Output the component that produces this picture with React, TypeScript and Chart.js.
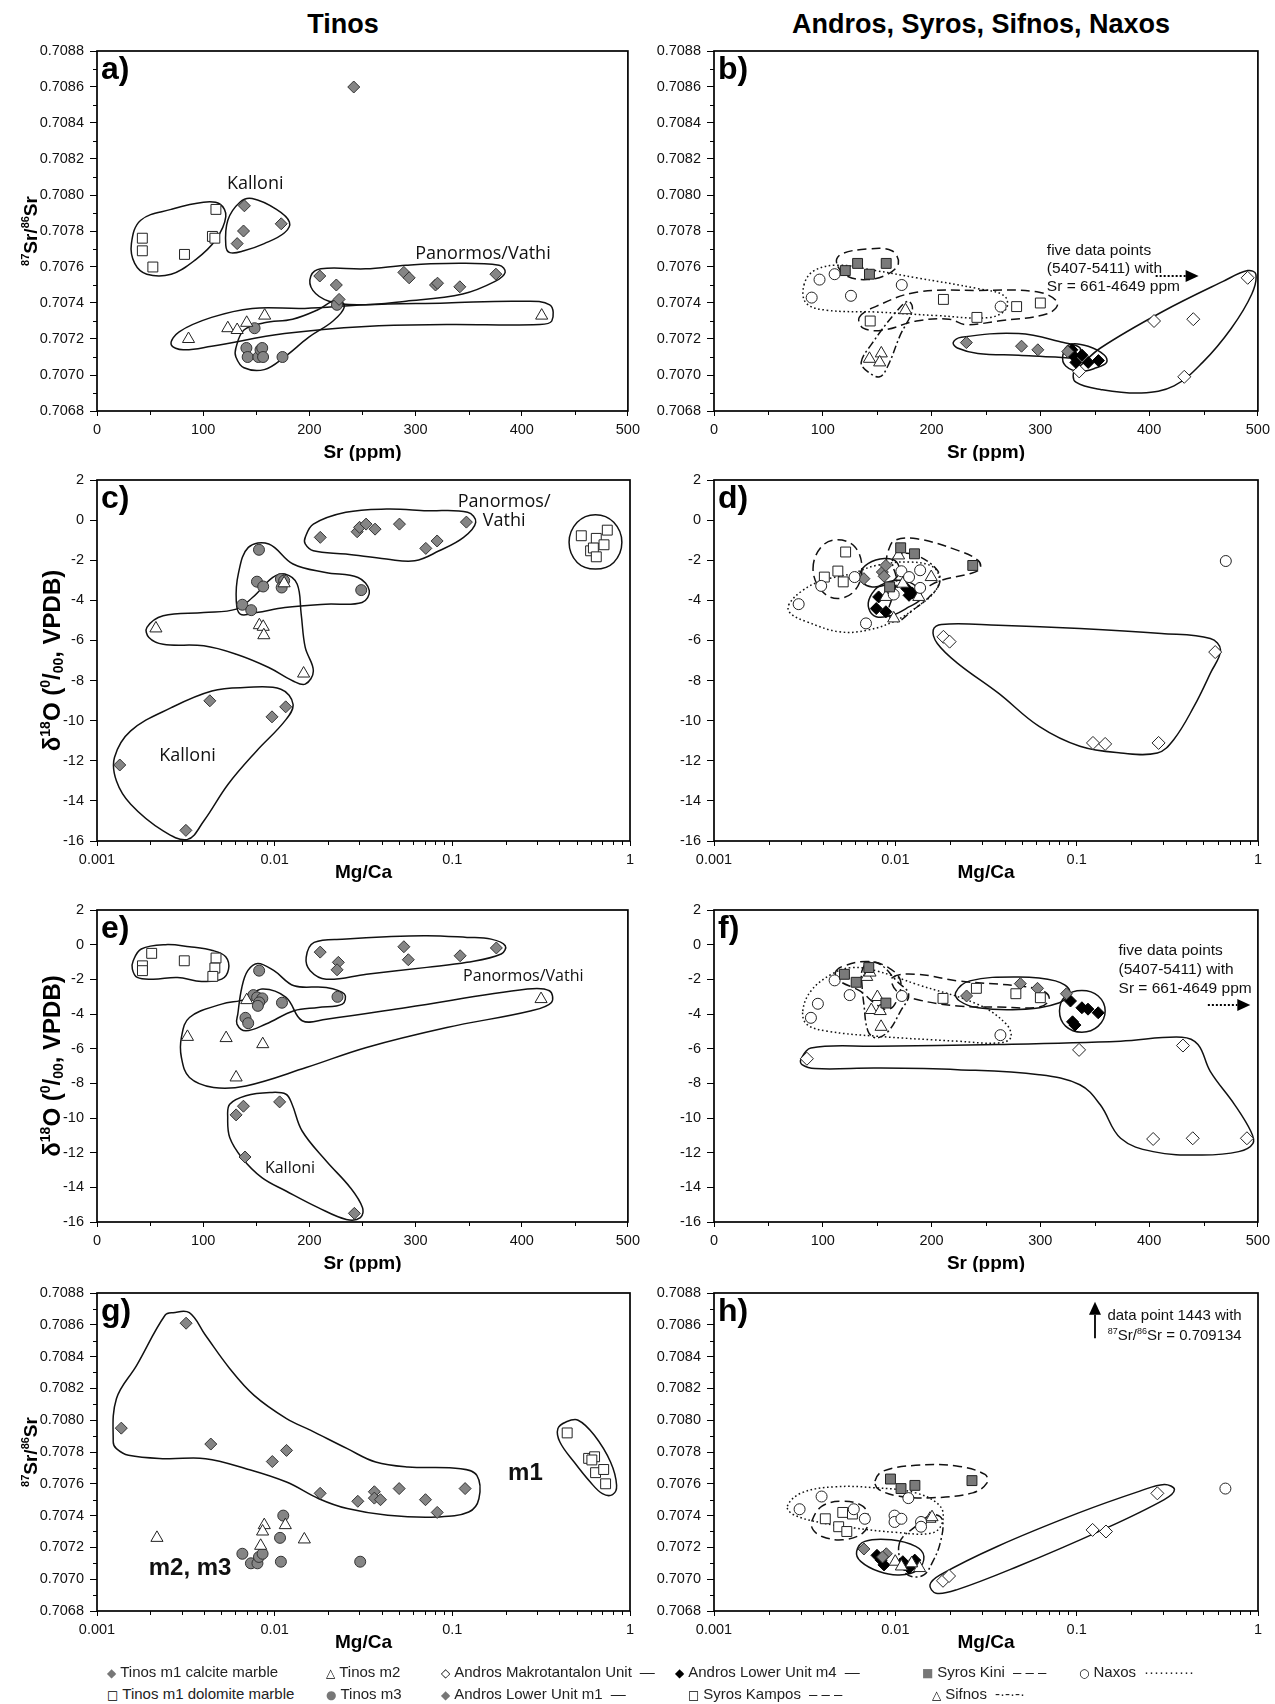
import React, { useEffect, useRef } from "react";
import { Chart, registerables } from "chart.js";

Chart.register(...registerables);

type Pt = [number, number];

// ---------- tick values / labels ----------
const SR_PPM_TICKS = [0, 100, 200, 300, 400, 500];
const SR_PPM_TICK_LABELS = ["0", "100", "200", "300", "400", "500"];
const SR_PPM_MINOR = [50, 150, 250, 350, 450];
const MGCA_TICKS = [0.001, 0.01, 0.1, 1];
const MGCA_TICK_LABELS = ["0.001", "0.01", "0.1", "1"];
const MGCA_MINOR = [0.002, 0.003, 0.004, 0.005, 0.006, 0.007, 0.008, 0.009, 0.02, 0.03, 0.04, 0.05, 0.06, 0.07, 0.08, 0.09, 0.2, 0.3, 0.4, 0.5, 0.6, 0.7, 0.8, 0.9];
const SR_RATIO_TICKS = [0.7068, 0.707, 0.7072, 0.7074, 0.7076, 0.7078, 0.708, 0.7082, 0.7084, 0.7086, 0.7088];
const SR_RATIO_TICK_LABELS = ["0.7068", "0.7070", "0.7072", "0.7074", "0.7076", "0.7078", "0.7080", "0.7082", "0.7084", "0.7086", "0.7088"];
const SR_RATIO_MINOR = [0.7069, 0.7071, 0.7073, 0.7075, 0.7077, 0.7079, 0.7081, 0.7083, 0.7085, 0.7087];
const D18O_TICKS = [-16, -14, -12, -10, -8, -6, -4, -2, 0, 2];
const D18O_TICK_LABELS = ["-16", "-14", "-12", "-10", "-8", "-6", "-4", "-2", "0", "2"];

// ---------- panel a: Tinos, Sr vs 87Sr/86Sr ----------
const A_TINOS_CALCITE: Pt[] = [[241.8, 0.7086], [138.8, 0.70794], [138, 0.7078], [132, 0.70773], [173.5, 0.70784], [209.8, 0.70755], [225.4, 0.7075], [228, 0.70742], [289, 0.70757], [294, 0.70754], [318.8, 0.7075], [320.7, 0.70751], [341.7, 0.70749], [375.7, 0.70756]];
const A_TINOS_DOLOMITE: Pt[] = [[42.7, 0.70776], [42.7, 0.70769], [52.6, 0.7076], [82.4, 0.70767], [112, 0.70792], [108.7, 0.70777], [111, 0.70776]];
const A_TINOS_M2: Pt[] = [[86.2, 0.7072], [123.2, 0.70726], [132, 0.70725], [141, 0.70729], [157.9, 0.70733], [418.8, 0.70733]];
const A_TINOS_M3: Pt[] = [[148.4, 0.70726], [140.7, 0.70715], [141.9, 0.7071], [152, 0.7071], [154, 0.70714], [155.6, 0.70715], [156.4, 0.7071], [174.7, 0.7071], [226, 0.70739]];
const A_OUT_DOL: Pt[] = [[32.4, 0.70773], [41.2, 0.70786], [69.8, 0.70792], [100.3, 0.70796], [115.6, 0.70795], [121.3, 0.70788], [111.7, 0.70775], [92.7, 0.70764], [69.8, 0.70756], [46.9, 0.70756], [35.5, 0.70762]];
const A_OUT_KAL: Pt[] = [[121.3, 0.70772], [123.2, 0.70786], [134.6, 0.70796], [146.1, 0.70798], [169, 0.70792], [181.2, 0.70785], [176.6, 0.70779], [157.5, 0.70773], [138.4, 0.70769], [125.1, 0.70768]];
const A_OUT_PAN: Pt[] = [[201.4, 0.70755], [210.9, 0.70759], [252.9, 0.70759], [291, 0.70761], [329.1, 0.70762], [378.7, 0.70761], [384.4, 0.70757], [374.9, 0.70752], [344.4, 0.70745], [291, 0.70741], [245.2, 0.70739], [218.5, 0.70741], [203.3, 0.70747]];
const A_OUT_M2: Pt[] = [[69.8, 0.70717], [77.4, 0.70724], [107.9, 0.70732], [146.1, 0.70737], [195.7, 0.70737], [252.9, 0.70739], [329.1, 0.7074], [397.8, 0.70741], [426.4, 0.70739], [428.3, 0.7073], [416.9, 0.70728], [329.1, 0.70728], [252.9, 0.70727], [176.6, 0.70723], [107.9, 0.70716], [81.2, 0.70714]];
const A_OUT_M3: Pt[] = [[130.8, 0.70715], [138.4, 0.70725], [157.5, 0.70729], [184.2, 0.70731], [207.1, 0.70736], [226.2, 0.70742], [233, 0.70738], [222.3, 0.7073], [199.5, 0.70721], [176.6, 0.7071], [157.5, 0.70703], [138.4, 0.70704], [130.8, 0.7071]];

// ---------- panel b: Andros/Syros/Sifnos/Naxos, Sr vs 87Sr/86Sr ----------
const B_KINI: Pt[] = [[120.7, 0.70758], [132, 0.70762], [142.9, 0.70756], [158.3, 0.70762]];
const B_NAXOS: Pt[] = [[89.8, 0.70743], [97, 0.70753], [110.9, 0.70756], [125.9, 0.70744], [172.6, 0.7075], [263.5, 0.70738]];
const B_KAMPOS: Pt[] = [[143.6, 0.7073], [210.9, 0.70742], [241.7, 0.70732], [278.2, 0.70738], [300, 0.7074]];
const B_SIFNOS: Pt[] = [[176, 0.70736], [142.9, 0.70709], [153.8, 0.70712], [152.3, 0.70707]];
const B_ANDROS_M1: Pt[] = [[232, 0.70718], [282.7, 0.70716], [297.7, 0.70714], [325.2, 0.70713]];
const B_ANDROS_M4: Pt[] = [[329, 0.70714], [330, 0.70711], [332.7, 0.70707], [338.3, 0.70711], [344, 0.70707], [353.4, 0.70708]];
const B_MAKRO: Pt[] = [[335.7, 0.70702], [404.5, 0.7073], [440.6, 0.70731], [432.3, 0.70699], [490.6, 0.70754]];
const B_OUT_KINI: Pt[] = [[112.8, 0.70762], [116.5, 0.70767], [141, 0.7077], [163.5, 0.70769], [169.5, 0.70762], [159.8, 0.70756], [141, 0.70753], [122.2, 0.70755]];
const B_OUT_NAX: Pt[] = [[82.7, 0.7075], [92.1, 0.70758], [114.7, 0.70761], [148.5, 0.70758], [186.1, 0.70754], [242.5, 0.70748], [266.9, 0.70744], [268.8, 0.70737], [253.8, 0.70732], [204.9, 0.70733], [148.5, 0.70735], [103.4, 0.70736], [84.6, 0.7074]];
const B_OUT_KAMP: Pt[] = [[133.5, 0.70732], [148.5, 0.70738], [186.1, 0.70746], [242.5, 0.70747], [298.9, 0.70746], [315.8, 0.7074], [306.4, 0.70734], [261.3, 0.7073], [231.2, 0.70728], [216.2, 0.70731], [186.1, 0.7073], [156, 0.70725], [137.2, 0.70726]];
const B_OUT_SIF: Pt[] = [[135.3, 0.70707], [144.7, 0.70717], [167.3, 0.70735], [178.6, 0.70741], [182.3, 0.70736], [171.1, 0.70722], [159.8, 0.70705], [152.3, 0.70699], [141, 0.70702]];
const B_OUT_M1: Pt[] = [[219.9, 0.70718], [227.4, 0.70721], [280.1, 0.70723], [321.4, 0.70718], [336.5, 0.70715], [332.7, 0.7071], [313.9, 0.7071], [280.1, 0.70711], [242.5, 0.70712], [223.7, 0.70715]];
const B_OUT_M4: Pt[] = [[320.7, 0.70711], [327.1, 0.70717], [344, 0.70716], [359, 0.70711], [360.9, 0.70707], [351.5, 0.70704], [336.5, 0.70702], [323.3, 0.70705]];
const B_OUT_MAK: Pt[] = [[330.8, 0.70702], [336.5, 0.70705], [355.3, 0.70715], [411.7, 0.70735], [468, 0.70752], [490.6, 0.70758], [498.1, 0.70756], [494.4, 0.70745], [475.6, 0.70726], [449.2, 0.70707], [422.9, 0.70694], [392.9, 0.7069], [355.3, 0.70692], [332.7, 0.70696]];

// ---------- panel c: Tinos, Mg/Ca vs d18O ----------
const C_TINOS_CALCITE: Pt[] = [[0.01806, -0.86], [0.02913, -0.58], [0.03006, -0.36], [0.03271, -0.2], [0.03673, -0.45], [0.0504, -0.2], [0.0709, -1.41], [0.0821, -1.04], [0.12, -0.1], [0.001343, -12.21], [0.003164, -15.47], [0.004316, -9.01], [0.00966, -9.81], [0.01154, -9.31]];
const C_TINOS_DOLOMITE: Pt[] = [[0.532, -0.78], [0.646, -0.91], [0.745, -0.5], [0.714, -1.23], [0.6, -1.53], [0.622, -1.39], [0.646, -1.83]];
const C_TINOS_M2: Pt[] = [[0.002146, -5.4], [0.0082, -5.24], [0.00862, -5.32], [0.00869, -5.74], [0.01455, -7.65], [0.0113, -3.15]];
const C_TINOS_M3: Pt[] = [[0.00816, -1.48], [0.00795, -3.07], [0.00862, -3.31], [0.00658, -4.22], [0.00738, -4.49], [0.01084, -2.94], [0.01131, -3.02], [0.01095, -3.36], [0.0307, -3.49]];
const C_OUT_PAN: Pt[] = [[0.01486, -0.86], [0.01651, -0.2], [0.02515, 0.39], [0.04256, 0.55], [0.072, 0.47], [0.1219, 0.39], [0.1354, -0.11], [0.1157, -0.86], [0.0843, -1.53], [0.0615, -2.03], [0.04256, -1.94], [0.02515, -1.69], [0.01651, -1.53], [0.01486, -1.19]];
const C_OUT_KAL: Pt[] = [[0.001254, -11.84], [0.001548, -10.51], [0.00262, -9.35], [0.004432, -8.52], [0.006751, -8.35], [0.01084, -8.43], [0.01269, -9.18], [0.01142, -10.01], [0.00791, -11.51], [0.00547, -13.17], [0.00399, -15.0], [0.00323, -15.92], [0.002357, -15.5], [0.001548, -14.17], [0.001287, -13.01]];
const C_OUT_M3: Pt[] = [[0.00608, -4.02], [0.00624, -2.69], [0.00711, -1.36], [0.00926, -1.19], [0.01269, -2.19], [0.01933, -2.61], [0.02945, -2.86], [0.0341, -3.52], [0.03104, -4.11], [0.01933, -4.19], [0.01142, -4.36], [0.00791, -4.61], [0.0064, -4.69]];
const C_OUT_M2: Pt[] = [[0.00191, -5.35], [0.002357, -4.77], [0.00399, -4.61], [0.00608, -4.44], [0.0075, -3.86], [0.00976, -2.86], [0.01142, -2.69], [0.01338, -3.19], [0.0141, -4.69], [0.01486, -6.35], [0.01651, -7.52], [0.01486, -8.18], [0.01269, -8.02], [0.00926, -7.35], [0.00608, -6.69], [0.00399, -6.27], [0.002357, -6.19], [0.00196, -5.85]];
const C_OUT_DOL: Pt[] = [[0.454, -1.11], [0.5045, -0.11], [0.6392, 0.27], [0.81, -0.11], [0.9, -1.11], [0.81, -2.11], [0.6392, -2.44], [0.5045, -2.11]];

// ---------- panel d: others, Mg/Ca vs d18O ----------
const D_KINI: Pt[] = [[0.0107, -1.38], [0.01275, -1.68], [0.02673, -2.26], [0.0093, -3.33]];
const D_NAXOS: Pt[] = [[0.00293, -4.19], [0.0039, -3.28], [0.00596, -2.84], [0.00689, -5.15], [0.0108, -2.55], [0.0119, -2.84], [0.0137, -2.5], [0.0137, -3.38], [0.0098, -3.71], [0.6645, -2.04]];
const D_KAMPOS: Pt[] = [[0.00532, -1.59], [0.00482, -2.54], [0.00406, -2.84], [0.00516, -3.08]];
const D_SIFNOS: Pt[] = [[0.01042, -1.76], [0.01577, -2.84], [0.01099, -3.17], [0.00887, -3.83], [0.01347, -3.83], [0.0098, -4.9]];
const D_ANDROS_M1: Pt[] = [[0.00671, -2.92], [0.00848, -2.59], [0.00887, -2.26], [0.00867, -2.8]];
const D_ANDROS_M4: Pt[] = [[0.00809, -3.83], [0.00785, -4.41], [0.00887, -4.57], [0.01156, -3.41], [0.01238, -3.63], [0.0119, -3.75]];
const D_MAKRO: Pt[] = [[0.01842, -5.82], [0.01992, -6.06], [0.5808, -6.58], [0.123, -11.11], [0.1436, -11.16], [0.283, -11.11]];
const D_OUT_MAK: Pt[] = [[0.01618, -5.48], [0.01794, -5.2], [0.03703, -5.24], [0.1042, -5.4], [0.2934, -5.65], [0.5458, -5.9], [0.6214, -6.48], [0.5458, -7.64], [0.4437, -9.29], [0.3427, -10.95], [0.2786, -11.61], [0.1749, -11.61], [0.1042, -11.28], [0.0621, -10.29], [0.03703, -8.63], [0.02207, -7.14], [0.01704, -6.15]];
const D_OUT_KAMP: Pt[] = [[0.003516, -2.42], [0.0039, -1.34], [0.0048, -0.98], [0.005993, -1.34], [0.006545, -2.42], [0.005993, -3.5], [0.0048, -3.91], [0.0039, -3.5]];
const D_OUT_NAX: Pt[] = [[0.002578, -4.24], [0.00309, -3.5], [0.004, -3.0], [0.005747, -2.67], [0.00784, -2.26], [0.01187, -2.09], [0.01618, -2.34], [0.01749, -3.0], [0.01618, -3.66], [0.01315, -4.33], [0.01016, -4.99], [0.00707, -5.48], [0.00492, -5.57], [0.003254, -5.07], [0.002646, -4.66]];
const D_OUT_KINI: Pt[] = [[0.00916, -1.51], [0.0099, -1.01], [0.01315, -0.93], [0.02207, -1.51], [0.02858, -2.01], [0.02935, -2.42], [0.02577, -2.67], [0.01794, -3.0], [0.01315, -3.5], [0.01016, -3.33], [0.00892, -2.67], [0.00892, -2.01]];
const D_OUT_M1: Pt[] = [[0.00637, -2.67], [0.00707, -2.17], [0.0087, -1.92], [0.01016, -2.09], [0.01042, -2.67], [0.00916, -3.17], [0.00745, -3.33], [0.006545, -3.08]];
const D_OUT_M4: Pt[] = [[0.00726, -3.83], [0.00826, -3.25], [0.0107, -3.0], [0.01315, -3.33], [0.01385, -3.91], [0.01187, -4.33], [0.00964, -4.74], [0.00784, -4.82], [0.00714, -4.41]];
const D_OUT_SIF: Pt[] = [[0.00964, -2.01], [0.0107, -1.68], [0.01315, -1.76], [0.01704, -2.5], [0.01749, -3.17], [0.01537, -3.83], [0.01249, -4.49], [0.01016, -5.07], [0.00916, -4.66], [0.00964, -3.83], [0.01016, -3.0]];

// ---------- panel e: Tinos, Sr vs d18O ----------
const E_TINOS_CALCITE: Pt[] = [[210.2, -0.43], [227.3, -1.02], [226.1, -1.45], [289, -0.12], [293.2, -0.87], [342, -0.64], [376.1, -0.19], [131, -9.82], [137.9, -9.32], [172, -9.07], [139.4, -12.25], [242.4, -15.5]];
const E_TINOS_DOLOMITE: Pt[] = [[42.8, -1.22], [42.8, -1.5], [51.5, -0.5], [82.2, -0.93], [112.1, -0.77], [111, -1.35], [109.1, -1.83]];
const E_TINOS_M2: Pt[] = [[85.2, -5.32], [121.6, -5.39], [156.1, -5.74], [131, -7.66], [418.2, -3.14], [141, -3.2]];
const E_TINOS_M3: Pt[] = [[152.7, -1.5], [147.3, -2.91], [150.8, -3.04], [155.7, -3.1], [152.7, -3.33], [151.5, -3.53], [174.2, -3.35], [139.8, -4.22], [142.4, -4.53], [226.5, -3.01]];
const E_OUT_DOL: Pt[] = [[34.1, -0.93], [41.7, -0.25], [64.4, 0.0], [87.1, -0.12], [109.8, -0.35], [121.2, -0.7], [123.9, -1.41], [117.4, -1.99], [98.5, -2.12], [75.8, -1.89], [53, -1.99], [37.9, -1.89], [33.3, -1.41]];
const E_OUT_PAN: Pt[] = [[197, -0.73], [204.5, 0.13], [234.8, 0.32], [272.7, 0.46], [310.6, 0.52], [348.5, 0.42], [371.2, 0.32], [384.5, -0.06], [380.7, -0.54], [348.5, -1.02], [310.6, -1.31], [253.8, -1.7], [215.9, -1.99], [200.8, -1.5]];
const E_OUT_M3: Pt[] = [[132.6, -4.01], [136.4, -2.47], [142, -1.5], [151.5, -1.08], [166.7, -1.5], [185.6, -2.37], [215.9, -2.47], [233, -2.85], [231.1, -3.43], [208.3, -3.62], [185.6, -3.81], [159.1, -4.58], [140.2, -4.97], [131.8, -4.58]];
const E_OUT_M2: Pt[] = [[79.5, -5.35], [87.1, -4.2], [117.4, -3.43], [140.2, -3.14], [155.3, -2.56], [178, -3.04], [193.2, -4.39], [215.9, -4.3], [291.7, -3.62], [405.3, -2.56], [426.1, -2.66], [428, -3.33], [409.1, -3.81], [329.5, -4.78], [253.8, -5.93], [197, -7.09], [140.2, -8.15], [109.8, -8.24], [87.1, -7.66], [79.5, -6.51]];
const E_OUT_KAL: Pt[] = [[123.1, -9.98], [125, -9.21], [140.2, -8.72], [162.9, -8.53], [178, -8.63], [183.7, -9.21], [193.2, -10.75], [215.9, -12.48], [238.6, -14.02], [250, -15.17], [248.1, -15.75], [234.8, -15.85], [208.3, -15.17], [178, -14.21], [155.3, -13.44], [136.4, -12.29], [125, -11.13]];

// ---------- panel f: others, Sr vs d18O ----------
const F_NAXOS: Pt[] = [[110.9, -2.06], [124.7, -2.91], [95.5, -3.41], [89.1, -4.22], [172.7, -2.96], [263.3, -5.22]];
const F_KINI: Pt[] = [[119.9, -1.71], [130.7, -2.17], [142.3, -1.32], [158, -3.37]];
const F_SIFNOS: Pt[] = [[140.4, -1.86], [143.4, -1.61], [150.2, -3.02], [144.6, -3.77], [152.8, -3.83], [153.6, -4.74]];
const F_KAMPOS: Pt[] = [[210.5, -3.1], [241.2, -2.52], [277.5, -2.83], [300, -3.06]];
const F_ANDROS_M1: Pt[] = [[232.2, -2.96], [281.6, -2.25], [297.4, -2.52], [324, -2.83]];
const F_ANDROS_M4: Pt[] = [[327.7, -3.25], [338.2, -3.64], [343.8, -3.72], [353.2, -3.93], [329.6, -4.45], [331.8, -4.64]];
const F_MAKRO: Pt[] = [[85.4, -6.58], [335.6, -6.07], [431.1, -5.82], [403.7, -11.21], [440.1, -11.17], [489.9, -11.17]];
const F_OUT_MAK: Pt[] = [[79.8, -6.63], [89.1, -5.96], [149.1, -5.86], [261.4, -5.76], [373.8, -5.57], [430, -5.34], [444.9, -5.76], [456.2, -7.31], [478.7, -9.24], [493.6, -10.78], [495.5, -11.46], [482.4, -11.94], [448.7, -12.14], [403.7, -11.94], [373.8, -11.17], [355.1, -9.24], [336.3, -8.08], [298.9, -7.5], [224, -7.21], [149.1, -7.12], [92.9, -7.15], [80.9, -6.92]];
const F_OUT_M1: Pt[] = [[222.1, -2.77], [235.2, -2.09], [280.1, -1.86], [313.9, -2.09], [327, -2.67], [317.6, -3.35], [280.1, -3.74], [242.7, -3.64], [225.8, -3.25]];
const F_OUT_M4: Pt[] = [[317.6, -3.83], [323.2, -2.96], [338.2, -2.64], [353.2, -2.96], [359.6, -3.83], [353.2, -4.7], [338.2, -5.05], [323.2, -4.7]];
const F_OUT_KINI: Pt[] = [[111.6, -1.61], [119.1, -1.23], [141.6, -0.97], [160.3, -1.32], [171.5, -2.09], [167.8, -3.25], [160.3, -3.74], [149.1, -3.45], [134.1, -2.67], [115.4, -2.09]];
const F_OUT_KAMP: Pt[] = [[164, -1.9], [186.5, -1.71], [224, -2.09], [280.1, -2.38], [302.6, -2.67], [308.2, -3.16], [298.9, -3.6], [261.4, -3.6], [224, -3.54], [186.5, -3.16], [167.8, -2.67]];
const F_OUT_NAX: Pt[] = [[81.6, -3.83], [89.1, -2.67], [107.9, -1.71], [126.6, -1.32], [149.1, -1.51], [186.5, -2.29], [242.7, -3.45], [268.9, -4.6], [272.7, -5.38], [261.4, -5.67], [224, -5.57], [149.1, -5.28], [104.1, -4.99], [85.4, -4.6]];
const F_OUT_SIF: Pt[] = [[136, -1.51], [141.6, -1.03], [152.8, -1.13], [167.8, -2.09], [179, -2.87], [171.5, -3.83], [160.3, -4.99], [149.1, -5.38], [141.6, -4.99], [137.8, -3.45], [136, -2.29]];

// ---------- panel g: Tinos, Mg/Ca vs 87Sr/86Sr ----------
const G_TINOS_CALCITE: Pt[] = [[0.00137, 0.70795], [0.003173, 0.70861], [0.00437, 0.70785], [0.0097, 0.70774], [0.01166, 0.70781], [0.01803, 0.70754], [0.02938, 0.70749], [0.0364, 0.70755], [0.0364, 0.70751], [0.03941, 0.7075], [0.0502, 0.70757], [0.0706, 0.7075], [0.0822, 0.70742], [0.118, 0.70757]];
const G_TINOS_DOLOMITE: Pt[] = [[0.443, 0.70792], [0.585, 0.70776], [0.632, 0.70777], [0.61, 0.70775], [0.64, 0.70767], [0.711, 0.70769], [0.729, 0.7076]];
const G_TINOS_M2: Pt[] = [[0.002175, 0.70726], [0.00874, 0.70734], [0.00855, 0.7073], [0.00834, 0.70721], [0.01148, 0.70734], [0.01469, 0.70725]];
const G_TINOS_M3: Pt[] = [[0.01118, 0.7074], [0.01072, 0.70726], [0.00658, 0.70716], [0.00735, 0.7071], [0.008, 0.7071], [0.00816, 0.70714], [0.00855, 0.70716], [0.01084, 0.70711], [0.0303, 0.70711]];
const G_OUT_CAL: Pt[] = [[0.001234, 0.707863], [0.001286, 0.708135], [0.001672, 0.708345], [0.002415, 0.70866], [0.002683, 0.708676], [0.003309, 0.708676], [0.00408, 0.708534], [0.005593, 0.708324], [0.00766, 0.708156], [0.01166, 0.70801], [0.01598, 0.707936], [0.02563, 0.707821], [0.037, 0.707737], [0.05631, 0.707706], [0.1114, 0.707695], [0.1374, 0.707653], [0.1411, 0.707506], [0.1237, 0.707423], [0.0813, 0.707391], [0.04332, 0.707402], [0.02563, 0.707444], [0.01774, 0.707506], [0.01166, 0.707611], [0.0069, 0.707695], [0.00408, 0.707758], [0.002415, 0.707758], [0.001505, 0.707779], [0.001286, 0.707821]];
const G_OUT_DOL: Pt[] = [[0.3927, 0.707947], [0.4362, 0.707989], [0.5105, 0.708], [0.63, 0.707905], [0.777, 0.707737], [0.8406, 0.70759], [0.7977, 0.707532], [0.6995, 0.707538], [0.5976, 0.707611], [0.4845, 0.707737], [0.4031, 0.707863]];

// ---------- panel h: others, Mg/Ca vs 87Sr/86Sr ----------
const H_KINI: Pt[] = [[0.0094, 0.70763], [0.01075, 0.70757], [0.01282, 0.70759], [0.02646, 0.70762]];
const H_NAXOS: Pt[] = [[0.002965, 0.70744], [0.00392, 0.70752], [0.0059, 0.70744], [0.00679, 0.70738], [0.0099, 0.7074], [0.0099, 0.70736], [0.0108, 0.70738], [0.0118, 0.70751], [0.01386, 0.70736], [0.01386, 0.70733], [0.661, 0.70757]];
const H_KAMPOS: Pt[] = [[0.00411, 0.70738], [0.00513, 0.70742], [0.0058, 0.70741], [0.00487, 0.70733], [0.0054, 0.7073]];
const H_SIFNOS: Pt[] = [[0.01552, 0.70738], [0.01593, 0.70739], [0.00999, 0.70711], [0.0108, 0.70708], [0.01361, 0.70707], [0.0123, 0.7071]];
const H_ANDROS_M1: Pt[] = [[0.00671, 0.70719], [0.00892, 0.70716], [0.0085, 0.70714]];
const H_ANDROS_M4: Pt[] = [[0.00792, 0.70715], [0.00836, 0.70712], [0.00866, 0.70709], [0.011, 0.70711], [0.0113, 0.70709], [0.0128, 0.70712], [0.0119, 0.70707]];
const H_MAKRO: Pt[] = [[0.01832, 0.70699], [0.01978, 0.70702], [0.1224, 0.70731], [0.1451, 0.7073], [0.2786, 0.70754]];
const H_OUT_KINI: Pt[] = [[0.00772, 0.707617], [0.00856, 0.70768], [0.01295, 0.707716], [0.02173, 0.707712], [0.03122, 0.707659], [0.03203, 0.707606], [0.02673, 0.707543], [0.01593, 0.707512], [0.01053, 0.707522], [0.00813, 0.707564]];
const H_OUT_NAX: Pt[] = [[0.002538, 0.707459], [0.00304, 0.707543], [0.0046, 0.707581], [0.00772, 0.707575], [0.01295, 0.707543], [0.01767, 0.707459], [0.01813, 0.707354], [0.01593, 0.70729], [0.01, 0.707295], [0.005963, 0.707322], [0.00394, 0.707354], [0.00274, 0.707406]];
const H_OUT_KAMP: Pt[] = [[0.003461, 0.707364], [0.00394, 0.707459], [0.0051, 0.70749], [0.00661, 0.707459], [0.00714, 0.707375], [0.00661, 0.70729], [0.0051, 0.707248], [0.00394, 0.707269], [0.003516, 0.707312]];
const H_OUT_ANDROS: Pt[] = [[0.00612, 0.707175], [0.00679, 0.707238], [0.0095, 0.707248], [0.01295, 0.707206], [0.01437, 0.707143], [0.0133, 0.707059], [0.01053, 0.707027], [0.00813, 0.707048], [0.00644, 0.707112]];
const H_OUT_SIF: Pt[] = [[0.01053, 0.707227], [0.01295, 0.707333], [0.01593, 0.707406], [0.01813, 0.707375], [0.01767, 0.707227], [0.01593, 0.707101], [0.01437, 0.707027], [0.0123, 0.707017], [0.0111, 0.707059]];
const H_OUT_MAK: Pt[] = [[0.01552, 0.706964], [0.01767, 0.707027], [0.03646, 0.707206], [0.1026, 0.707417], [0.223, 0.707554], [0.3041, 0.707596], [0.3461, 0.707564], [0.3041, 0.707501], [0.1329, 0.707301], [0.0472, 0.70708], [0.02173, 0.706933], [0.01677, 0.706912]];

// ---------- styles ----------
const FONT = '"Liberation Sans", Arial, Helvetica, sans-serif';
const NOTE_FONT = '"Open Sans", "Liberation Sans", sans-serif';

const POINT_STYLES: Record<string, { ps: string; r: number; bg: string; bd: string }> = {
  calcite: { ps: "rectRot", r: 6, bg: "#858585", bd: "#333" },
  dolomite: { ps: "rect", r: 7, bg: "#ffffff", bd: "#222" },
  m2: { ps: "triangle", r: 7, bg: "#ffffff", bd: "#222" },
  m3: { ps: "circle", r: 5.5, bg: "#858585", bd: "#333" },
  mak: { ps: "rectRot", r: 6.5, bg: "#ffffff", bd: "#222" },
  m4: { ps: "rectRot", r: 6, bg: "#000000", bd: "#000" },
  m1: { ps: "rectRot", r: 6, bg: "#858585", bd: "#333" },
  kini: { ps: "rect", r: 7, bg: "#7a7a7a", bd: "#222" },
  kampos: { ps: "rect", r: 7, bg: "#ffffff", bd: "#222" },
  naxos: { ps: "circle", r: 5.5, bg: "#ffffff", bd: "#222" },
  sifnos: { ps: "triangle", r: 7, bg: "#ffffff", bd: "#222" },
};

const DASHES: Record<string, number[]> = {
  solid: [],
  dash: [9, 5],
  dot: [1.6, 2.6],
  dashdot: [8, 3, 2, 3],
};

type Part = { t: string; sup?: boolean; sub?: boolean };
interface Series { data: Pt[]; style: string }
interface Outline { data: Pt[]; line: string }
interface Note { text?: string; parts?: Part[]; x: number; y: number; size: number; family: string; bold?: boolean; align: CanvasTextAlign }
interface Arrow { x1: number; y1: number; x2: number; y2: number; dotted: boolean }
interface PanelCfg {
  letter: string; col: number; row: number;
  xKind: "sr" | "mg"; yKind: "sr" | "d18o";
  series: Series[]; outlines: Outline[]; notes: Note[]; arrows: Arrow[];
  yTitle: boolean;
}

// ---------- layout ----------
const ROW_TOPS = [51, 480, 910, 1293];
const ROW_BOTTOMS = [411, 841, 1222, 1611];
const COL_CANVAS_LEFT = [0, 640];
const COL_CANVAS_W = [645, 635];
const COL_Y_W = [97, 74];
const COL_PAD_RIGHT = [15, 17];
const PAD_TOP = 20;
const X_AXIS_H = 50;

const SR_Y_TITLE: Part[] = [{ t: "87", sup: true }, { t: "Sr/" }, { t: "86", sup: true }, { t: "Sr" }];
const D18O_Y_TITLE: Part[] = [{ t: "δ" }, { t: "18", sup: true }, { t: "O (" }, { t: "0", sup: true }, { t: "/" }, { t: "00", sub: true }, { t: ", VPDB)" }];

const NOTE_INFO_B = 15.5;

const PANELS: PanelCfg[] = [
  {
    letter: "a)", col: 0, row: 0, xKind: "sr", yKind: "sr", yTitle: true,
    series: [
      { data: A_TINOS_CALCITE, style: "calcite" }, { data: A_TINOS_DOLOMITE, style: "dolomite" },
      { data: A_TINOS_M2, style: "m2" }, { data: A_TINOS_M3, style: "m3" },
    ],
    outlines: [
      { data: A_OUT_DOL, line: "solid" }, { data: A_OUT_KAL, line: "solid" }, { data: A_OUT_PAN, line: "solid" },
      { data: A_OUT_M2, line: "solid" }, { data: A_OUT_M3, line: "solid" },
    ],
    notes: [
      { text: "Kalloni", x: 149, y: 0.70807, size: 18, family: NOTE_FONT, align: "center" },
      { text: "Panormos/Vathi", x: 363.5, y: 0.70768, size: 18, family: NOTE_FONT, align: "center" },
    ],
    arrows: [],
  },
  {
    letter: "b)", col: 1, row: 0, xKind: "sr", yKind: "sr", yTitle: false,
    series: [
      { data: B_KINI, style: "kini" }, { data: B_NAXOS, style: "naxos" }, { data: B_KAMPOS, style: "kampos" },
      { data: B_SIFNOS, style: "sifnos" }, { data: B_ANDROS_M1, style: "m1" }, { data: B_ANDROS_M4, style: "m4" },
      { data: B_MAKRO, style: "mak" },
    ],
    outlines: [
      { data: B_OUT_KINI, line: "dash" }, { data: B_OUT_NAX, line: "dot" }, { data: B_OUT_KAMP, line: "dash" },
      { data: B_OUT_SIF, line: "dashdot" }, { data: B_OUT_M1, line: "solid" }, { data: B_OUT_M4, line: "solid" },
      { data: B_OUT_MAK, line: "solid" },
    ],
    notes: [
      { text: "five data points", x: 306, y: 0.7077, size: NOTE_INFO_B, family: FONT, align: "left" },
      { text: "(5407-5411) with", x: 306, y: 0.7076, size: NOTE_INFO_B, family: FONT, align: "left" },
      { text: "Sr = 661-4649 ppm", x: 306, y: 0.7075, size: NOTE_INFO_B, family: FONT, align: "left" },
    ],
    arrows: [{ x1: 406, y1: 0.70755, x2: 445.5, y2: 0.70755, dotted: true }],
  },
  {
    letter: "c)", col: 0, row: 1, xKind: "mg", yKind: "d18o", yTitle: true,
    series: [
      { data: C_TINOS_CALCITE, style: "calcite" }, { data: C_TINOS_DOLOMITE, style: "dolomite" },
      { data: C_TINOS_M2, style: "m2" }, { data: C_TINOS_M3, style: "m3" },
    ],
    outlines: [
      { data: C_OUT_PAN, line: "solid" }, { data: C_OUT_KAL, line: "solid" }, { data: C_OUT_M3, line: "solid" },
      { data: C_OUT_M2, line: "solid" }, { data: C_OUT_DOL, line: "solid" },
    ],
    notes: [
      { text: "Panormos/", x: 0.1957, y: 0.97, size: 18, family: NOTE_FONT, align: "center" },
      { text: "Vathi", x: 0.1957, y: 0.05, size: 18, family: NOTE_FONT, align: "center" },
      { text: "Kalloni", x: 0.00323, y: -11.68, size: 18, family: NOTE_FONT, align: "center" },
    ],
    arrows: [],
  },
  {
    letter: "d)", col: 1, row: 1, xKind: "mg", yKind: "d18o", yTitle: false,
    series: [
      { data: D_KINI, style: "kini" }, { data: D_NAXOS, style: "naxos" }, { data: D_KAMPOS, style: "kampos" },
      { data: D_SIFNOS, style: "sifnos" }, { data: D_ANDROS_M1, style: "m1" }, { data: D_ANDROS_M4, style: "m4" },
      { data: D_MAKRO, style: "mak" },
    ],
    outlines: [
      { data: D_OUT_MAK, line: "solid" }, { data: D_OUT_KAMP, line: "dash" }, { data: D_OUT_NAX, line: "dot" },
      { data: D_OUT_KINI, line: "dash" }, { data: D_OUT_M1, line: "solid" }, { data: D_OUT_M4, line: "solid" },
      { data: D_OUT_SIF, line: "dashdot" },
    ],
    notes: [],
    arrows: [],
  },
  {
    letter: "e)", col: 0, row: 2, xKind: "sr", yKind: "d18o", yTitle: true,
    series: [
      { data: E_TINOS_CALCITE, style: "calcite" }, { data: E_TINOS_DOLOMITE, style: "dolomite" },
      { data: E_TINOS_M2, style: "m2" }, { data: E_TINOS_M3, style: "m3" },
    ],
    outlines: [
      { data: E_OUT_DOL, line: "solid" }, { data: E_OUT_PAN, line: "solid" }, { data: E_OUT_M3, line: "solid" },
      { data: E_OUT_M2, line: "solid" }, { data: E_OUT_KAL, line: "solid" },
    ],
    notes: [
      { text: "Panormos/Vathi", x: 401.5, y: -1.74, size: 16, family: NOTE_FONT, align: "center" },
      { text: "Kalloni", x: 181.8, y: -12.86, size: 16, family: NOTE_FONT, align: "center" },
    ],
    arrows: [],
  },
  {
    letter: "f)", col: 1, row: 2, xKind: "sr", yKind: "d18o", yTitle: false,
    series: [
      { data: F_KINI, style: "kini" }, { data: F_NAXOS, style: "naxos" }, { data: F_KAMPOS, style: "kampos" },
      { data: F_SIFNOS, style: "sifnos" }, { data: F_ANDROS_M1, style: "m1" }, { data: F_ANDROS_M4, style: "m4" },
      { data: F_MAKRO, style: "mak" },
    ],
    outlines: [
      { data: F_OUT_MAK, line: "solid" }, { data: F_OUT_M1, line: "solid" }, { data: F_OUT_M4, line: "solid" },
      { data: F_OUT_KINI, line: "dash" }, { data: F_OUT_KAMP, line: "dash" }, { data: F_OUT_NAX, line: "dot" },
      { data: F_OUT_SIF, line: "dashdot" },
    ],
    notes: [
      { text: "five data points", x: 371.9, y: -0.26, size: NOTE_INFO_B, family: FONT, align: "left" },
      { text: "(5407-5411) with", x: 371.9, y: -1.36, size: NOTE_INFO_B, family: FONT, align: "left" },
      { text: "Sr = 661-4649 ppm", x: 371.9, y: -2.48, size: NOTE_INFO_B, family: FONT, align: "left" },
    ],
    arrows: [{ x1: 454, y1: -3.48, x2: 493, y2: -3.48, dotted: true }],
  },
  {
    letter: "g)", col: 0, row: 3, xKind: "mg", yKind: "sr", yTitle: true,
    series: [
      { data: G_TINOS_CALCITE, style: "calcite" }, { data: G_TINOS_DOLOMITE, style: "dolomite" },
      { data: G_TINOS_M2, style: "m2" }, { data: G_TINOS_M3, style: "m3" },
    ],
    outlines: [{ data: G_OUT_CAL, line: "solid" }, { data: G_OUT_DOL, line: "solid" }],
    notes: [
      { text: "m1", x: 0.258, y: 0.70768, size: 24, family: FONT, bold: true, align: "center" },
      { text: "m2, m3", x: 0.00334, y: 0.70708, size: 24, family: FONT, bold: true, align: "center" },
    ],
    arrows: [],
  },
  {
    letter: "h)", col: 1, row: 3, xKind: "mg", yKind: "sr", yTitle: false,
    series: [
      { data: H_KINI, style: "kini" }, { data: H_NAXOS, style: "naxos" }, { data: H_KAMPOS, style: "kampos" },
      { data: H_SIFNOS, style: "sifnos" }, { data: H_ANDROS_M1, style: "m1" }, { data: H_ANDROS_M4, style: "m4" },
      { data: H_MAKRO, style: "mak" },
    ],
    outlines: [
      { data: H_OUT_KINI, line: "dash" }, { data: H_OUT_NAX, line: "dot" }, { data: H_OUT_KAMP, line: "dash" },
      { data: H_OUT_ANDROS, line: "solid" }, { data: H_OUT_SIF, line: "dashdot" }, { data: H_OUT_MAK, line: "solid" },
    ],
    notes: [
      { text: "data point 1443 with", x: 0.813, y: 0.708663, size: 15, family: FONT, align: "right" },
      { parts: [{ t: "87", sup: true }, { t: "Sr/" }, { t: "86", sup: true }, { t: "Sr = 0.709134" }], x: 0.813, y: 0.708537, size: 15, family: FONT, align: "right" },
    ],
    arrows: [{ x1: 0.1262, y1: 0.708516, x2: 0.1262, y2: 0.708745, dotted: false }],
  },
];

// ---------- drawing helpers ----------
function drawParts(ctx: CanvasRenderingContext2D, parts: Part[], x: number, baseline: number, size: number, bold: boolean, family: string, align: CanvasTextAlign) {
  const w = bold ? "bold " : "";
  const big = `${w}${size}px ${family}`;
  const small = `${w}${Math.round(size * 0.6)}px ${family}`;
  let total = 0;
  const widths = parts.map((p) => {
    ctx.font = p.sup || p.sub ? small : big;
    const mw = ctx.measureText(p.t).width;
    total += mw;
    return mw;
  });
  let cx = align === "center" ? x - total / 2 : align === "right" ? x - total : x;
  ctx.textAlign = "left";
  ctx.textBaseline = "alphabetic";
  parts.forEach((p, i) => {
    ctx.font = p.sup || p.sub ? small : big;
    const dy = p.sup ? -size * 0.4 : p.sub ? size * 0.12 : 0;
    ctx.fillText(p.t, cx, baseline + dy);
    cx += widths[i];
  });
}

function makeDeco(p: PanelCfg) {
  const nSeries = p.series.length;
  const canvasLeft = COL_CANVAS_LEFT[p.col];
  return {
    id: "deco",
    afterDatasetUpdate(chart: any, args: any) {
      if (args.index >= nSeries && args.meta && args.meta.dataset) {
        args.meta.dataset._loop = true;
        args.meta.dataset._fullLoop = true;
      }
    },
    afterDraw(chart: any) {
      const { ctx, chartArea: ca, scales } = chart;
      const xs = scales.x;
      const ys = scales.y;
      ctx.save();
      ctx.fillStyle = "#000";
      ctx.strokeStyle = "#000";
      // frame
      ctx.lineWidth = 1.7;
      ctx.setLineDash([]);
      ctx.strokeRect(ca.left, ca.top, ca.right - ca.left, ca.bottom - ca.top);
      // minor ticks
      ctx.lineWidth = 1;
      ctx.beginPath();
      const xm = p.xKind === "sr" ? SR_PPM_MINOR : MGCA_MINOR;
      xm.forEach((v) => {
        const px = Math.round(xs.getPixelForValue(v)) + 0.5;
        ctx.moveTo(px, ca.bottom);
        ctx.lineTo(px, ca.bottom + 4);
      });
      if (p.yKind === "sr") {
        SR_RATIO_MINOR.forEach((v) => {
          const py = Math.round(ys.getPixelForValue(v)) + 0.5;
          ctx.moveTo(ca.left - 4, py);
          ctx.lineTo(ca.left, py);
        });
      }
      ctx.stroke();
      // panel letter
      ctx.font = `bold 32px ${FONT}`;
      ctx.textAlign = "left";
      ctx.textBaseline = "alphabetic";
      ctx.fillText(p.letter, ca.left + 4, ca.top + 28);
      // x title
      ctx.font = `bold 19px ${FONT}`;
      ctx.textAlign = "center";
      ctx.textBaseline = "middle";
      const xt = p.xKind === "sr" ? "Sr (ppm)" : "Mg/Ca";
      ctx.fillText(xt, (ca.left + ca.right) / 2, ca.bottom + (p.xKind === "sr" ? 42 : 32));
      // y title
      if (p.yTitle) {
        const isSr = p.yKind === "sr";
        const size = isSr ? 19 : 24;
        const cxp = (isSr ? 30 : 51) - canvasLeft;
        ctx.save();
        ctx.translate(cxp, (ca.top + ca.bottom) / 2);
        ctx.rotate(-Math.PI / 2);
        drawParts(ctx, isSr ? SR_Y_TITLE : D18O_Y_TITLE, 0, size * 0.36, size, true, FONT, "center");
        ctx.restore();
      }
      // notes
      p.notes.forEach((n) => {
        const px = xs.getPixelForValue(n.x);
        const py = ys.getPixelForValue(n.y);
        const parts = n.parts ? n.parts : [{ t: n.text || "" }];
        ctx.fillStyle = "#111";
        drawParts(ctx, parts, px, py + n.size * 0.36, n.size, !!n.bold, n.family, n.align);
      });
      // arrows
      ctx.fillStyle = "#000";
      p.arrows.forEach((a) => {
        const x1 = xs.getPixelForValue(a.x1);
        const y1 = ys.getPixelForValue(a.y1);
        const x2 = xs.getPixelForValue(a.x2);
        const y2 = ys.getPixelForValue(a.y2);
        const ang = Math.atan2(y2 - y1, x2 - x1);
        const hl = 13;
        const hw = 6;
        const bx = x2 - Math.cos(ang) * hl;
        const by = y2 - Math.sin(ang) * hl;
        ctx.beginPath();
        ctx.lineWidth = a.dotted ? 2 : 1.8;
        ctx.setLineDash(a.dotted ? [2, 2] : []);
        ctx.moveTo(x1, y1);
        ctx.lineTo(bx, by);
        ctx.stroke();
        ctx.setLineDash([]);
        ctx.beginPath();
        ctx.moveTo(x2, y2);
        ctx.lineTo(bx - Math.sin(ang) * hw, by + Math.cos(ang) * hw);
        ctx.lineTo(bx + Math.sin(ang) * hw, by - Math.cos(ang) * hw);
        ctx.closePath();
        ctx.fill();
      });
      ctx.restore();
    },
  };
}

const toXY = (pts: Pt[]) => pts.map(([x, y]) => ({ x, y }));

function buildConfig(p: PanelCfg) {
  const gridCommon = { display: true, drawOnChartArea: false, drawTicks: true, color: "#000", lineWidth: 1 };
  const tickFont = { family: FONT, size: 14.5 };
  const xScale: any =
    p.xKind === "sr"
      ? {
          type: "linear", position: "bottom", min: 0, max: 500,
          afterBuildTicks: (ax: any) => { ax.ticks = SR_PPM_TICKS.map((v) => ({ value: v })); },
          ticks: { autoSkip: false, maxRotation: 0, padding: 5, color: "#111", font: tickFont, callback: (_v: any, i: number) => SR_PPM_TICK_LABELS[i] },
        }
      : {
          type: "logarithmic", position: "bottom", min: 0.001, max: 1,
          afterBuildTicks: (ax: any) => { ax.ticks = MGCA_TICKS.map((v) => ({ value: v })); },
          ticks: { autoSkip: false, maxRotation: 0, padding: 5, color: "#111", font: tickFont, callback: (_v: any, i: number) => MGCA_TICK_LABELS[i] },
        };
  xScale.grid = { ...gridCommon, tickLength: 5 };
  xScale.border = { display: false };
  xScale.afterFit = (ax: any) => { ax.height = X_AXIS_H; };

  const yScale: any =
    p.yKind === "sr"
      ? {
          type: "linear", position: "left", min: 0.7068, max: 0.7088,
          afterBuildTicks: (ax: any) => { ax.ticks = SR_RATIO_TICKS.map((v) => ({ value: v })); },
          ticks: { autoSkip: false, padding: 6, color: "#111", font: tickFont, callback: (_v: any, i: number) => SR_RATIO_TICK_LABELS[i] },
        }
      : {
          type: "linear", position: "left", min: -16, max: 2,
          afterBuildTicks: (ax: any) => { ax.ticks = D18O_TICKS.map((v) => ({ value: v })); },
          ticks: { autoSkip: false, padding: 6, color: "#111", font: tickFont, callback: (_v: any, i: number) => D18O_TICK_LABELS[i] },
        };
  yScale.grid = { ...gridCommon, tickLength: 7 };
  yScale.border = { display: false };
  yScale.afterFit = (ax: any) => { ax.width = COL_Y_W[p.col]; };

  const pointSets = p.series.map((s) => {
    const st = POINT_STYLES[s.style];
    return {
      type: "scatter",
      data: toXY(s.data),
      pointStyle: st.ps,
      pointRadius: st.r,
      pointBackgroundColor: st.bg,
      pointBorderColor: st.bd,
      pointBorderWidth: 1,
      showLine: false,
    };
  });
  const outlineSets = p.outlines.map((o) => ({
    type: "line",
    data: toXY(o.data),
    borderColor: "#111",
    borderWidth: 1.5,
    borderDash: DASHES[o.line],
    pointRadius: 0,
    fill: false,
    tension: 0.38,
    spanGaps: true,
  }));

  return {
    type: "scatter",
    data: { datasets: [...pointSets, ...outlineSets] },
    options: {
      responsive: false,
      animation: false,
      devicePixelRatio: 1,
      events: [],
      layout: { padding: { top: PAD_TOP, right: COL_PAD_RIGHT[p.col], bottom: 0, left: 0 } },
      plugins: { legend: { display: false }, tooltip: { enabled: false } },
      scales: { x: xScale, y: yScale },
    },
    plugins: [makeDeco(p)],
  };
}

function ChartPanel({ p }: { p: PanelCfg }) {
  const ref = useRef<HTMLCanvasElement | null>(null);
  const w = COL_CANVAS_W[p.col];
  const h = ROW_BOTTOMS[p.row] - ROW_TOPS[p.row] + PAD_TOP + X_AXIS_H;
  const left = COL_CANVAS_LEFT[p.col];
  const top = ROW_TOPS[p.row] - PAD_TOP;
  useEffect(() => {
    if (!ref.current) return;
    const chart = new Chart(ref.current, buildConfig(p) as any);
    return () => chart.destroy();
  }, [p]);
  return <canvas ref={ref} width={w} height={h} style={{ position: "absolute", left, top, width: w, height: h }} />;
}

// ---------- legend ----------
const LEGEND_ITEMS = [
  { x: 107, row: 0, mark: "◆", color: "#777", text: "Tinos m1 calcite marble", line: "" },
  { x: 326, row: 0, mark: "△", color: "#000", text: "Tinos m2", line: "" },
  { x: 441, row: 0, mark: "◇", color: "#000", text: "Andros Makrotantalon Unit", line: "—" },
  { x: 675, row: 0, mark: "◆", color: "#000", text: "Andros Lower Unit m4", line: "—" },
  { x: 922, row: 0, mark: "■", color: "#777", text: "Syros Kini", line: "– – –" },
  { x: 1079, row: 0, mark: "○", color: "#000", text: "Naxos", line: "··········" },
  { x: 107, row: 1, mark: "□", color: "#000", text: "Tinos m1 dolomite marble", line: "" },
  { x: 326, row: 1, mark: "●", color: "#777", text: "Tinos m3", line: "" },
  { x: 441, row: 1, mark: "◆", color: "#777", text: "Andros Lower Unit m1", line: "—" },
  { x: 688, row: 1, mark: "□", color: "#000", text: "Syros Kampos", line: "– – –" },
  { x: 932, row: 1, mark: "△", color: "#000", text: "Sifnos", line: "-·-·-·" },
];
const LEGEND_ROW_Y = [1672, 1694];

export default function App() {
  return (
    <div style={{ position: "absolute", left: 0, top: 0, width: 1275, height: 1704, background: "#fff", overflow: "hidden" }}>
      <div style={{ position: "absolute", left: 243, width: 200, top: 9, textAlign: "center", font: `bold 27px ${FONT}`, color: "#000" }}>Tinos</div>
      <div style={{ position: "absolute", left: 731, width: 500, top: 9, textAlign: "center", font: `bold 27px ${FONT}`, color: "#000" }}>Andros, Syros, Sifnos, Naxos</div>
      {PANELS.map((p) => (
        <ChartPanel key={p.letter} p={p} />
      ))}
      {LEGEND_ITEMS.map((it, i) => (
        <div key={i} style={{ position: "absolute", left: it.x, top: LEGEND_ROW_Y[it.row] - 9, height: 18, lineHeight: "18px", whiteSpace: "nowrap", font: `15px ${FONT}`, color: "#222" }}>
          <span style={{ color: it.color, fontFamily: '"DejaVu Sans", sans-serif', fontSize: 12, marginRight: 4 }}>{it.mark}</span>
          {it.text}
          {it.line ? <span style={{ marginLeft: 8, letterSpacing: 0 }}>{it.line}</span> : null}
        </div>
      ))}
    </div>
  );
}
